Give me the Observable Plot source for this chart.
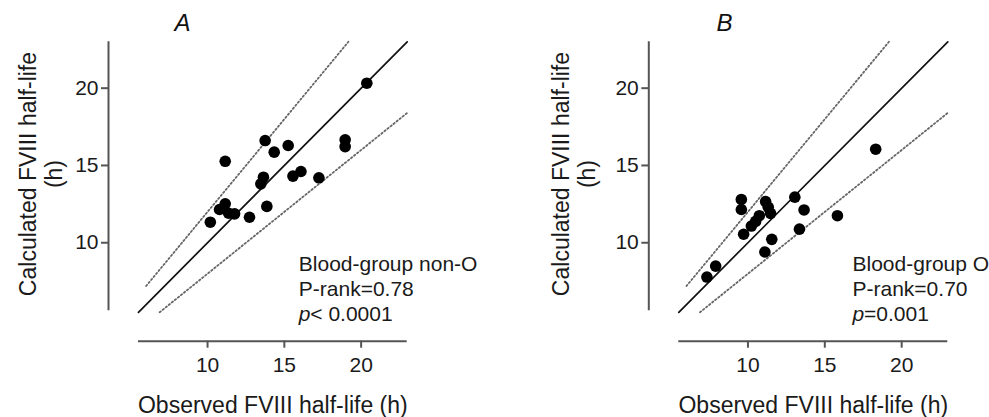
<!DOCTYPE html>
<html>
<head>
<meta charset="utf-8">
<script src="https://cdn.jsdelivr.net/npm/d3@7"></script>
<script src="https://cdn.jsdelivr.net/npm/@observablehq/plot@0.6"></script>
<style>
  html, body { margin: 0; padding: 0; background: #fff; }
  #wrap { position: relative; width: 989px; height: 417px; overflow: hidden; background: #fff; }
  #wrap > div { position: absolute; top: 0; }
</style>
</head>
<body>
<div id="wrap"><div id="pa" style="left:0"></div><div id="pb" style="left:494px"></div></div>
<script>
// ---- data ----
const tickValues = [10, 15, 20];
const xTitle = "Observed FVIII half-life (h)";
const yTitle = "Calculated FVIII half-life\n(h)";

// Panel A: blood-group non-O
const obsA  = [10.18, 10.78, 11.15, 11.37, 11.76, 11.15, 12.73, 13.86, 13.47, 13.64, 13.75, 14.34, 15.25, 15.56, 16.08, 17.25, 18.96, 18.96, 20.37];
const calcA = [11.33, 12.15, 12.52, 11.91, 11.87, 15.27, 11.65, 12.35, 13.81, 14.24, 16.61, 15.86, 16.29, 14.31, 14.61, 14.20, 16.66, 16.22, 20.32];
const annA = ["Blood-group non-O", "P-rank=0.78", "< 0.0001"];

// Panel B: blood-group O
const obsB  = [7.33, 7.90, 9.57, 9.57, 9.72, 10.22, 10.50, 10.74, 11.15, 11.32, 11.47, 11.55, 11.10, 13.05, 13.65, 13.35, 15.82, 18.31];
const calcB = [7.78, 8.49, 12.80, 12.15, 10.55, 11.08, 11.38, 11.75, 12.66, 12.30, 11.90, 10.22, 9.40, 12.95, 12.12, 10.88, 11.75, 16.05];
const annB = ["Blood-group O", "P-rank=0.70", "=0.001"];

// reference lines (identity and +/-20%)
const identityLine = [{x: 5.5, y: 5.5}, {x: 23, y: 23}];
const upperLine = [{x: 6.0, y: 7.2}, {x: 19.17, y: 23}];
const lowerLine = [{x: 6.88, y: 5.5}, {x: 23, y: 18.4}];

const axisSpan = [5.5, 23];
const xDomain = [3.55, 23];
const yDomain = [3.63, 23];

const FONT = "'Liberation Sans', Arial, Helvetica, sans-serif";

function panel({letter, obs, calc, ann, width, ml, mr, titleDx, letterDx, annDx}) {
  const mid = (axisSpan[0] + axisSpan[1]) / 2;
  const pts = obs.map((o, i) => ({o, c: calc[i]}));
  return Plot.plot({
    width, height: 417,
    marginLeft: ml, marginRight: mr, marginTop: 41.3, marginBottom: 76.3,
    x: {domain: xDomain},
    y: {domain: yDomain},
    style: {fontFamily: FONT, background: "#fff", color: "#1a1a1a", overflow: "visible"},
    marks: [
      // axis lines (offset style)
      Plot.ruleX([xDomain[0]], {y1: axisSpan[0] + 0.1, y2: axisSpan[1], stroke: "#555", strokeWidth: 2}),
      Plot.ruleY([yDomain[0]], {x1: axisSpan[0], x2: axisSpan[1], stroke: "#555", strokeWidth: 2}),
      Plot.axisY({ticks: tickValues, tickSize: 7, tickPadding: 3, fontSize: 21, stroke: "#555", strokeWidth: 2, label: null, tickFormat: d => d}),
      Plot.axisX({ticks: tickValues, tickSize: 7, tickPadding: 9, fontSize: 21, stroke: "#555", strokeWidth: 2, label: null, tickFormat: d => d}),
      // reference lines
      Plot.line(upperLine, {x: "x", y: "y", stroke: "#666", strokeWidth: 1.8, strokeDasharray: "1.5,2.4"}),
      Plot.line(lowerLine, {x: "x", y: "y", stroke: "#666", strokeWidth: 1.8, strokeDasharray: "1.5,2.4"}),
      Plot.line(identityLine, {x: "x", y: "y", stroke: "#111", strokeWidth: 1.7}),
      // points
      Plot.dot(pts, {x: "o", y: "c", r: 5.8, fill: "#000", stroke: null}),
      // titles
      Plot.text([xTitle], {x: mid, frameAnchor: "bottom", dy: 71.3, lineAnchor: "bottom", textAnchor: "middle", fontSize: 23, fill: "#1a1a1a"}),
      Plot.text([yTitle], {y: mid, frameAnchor: "left", dx: titleDx, dy: -3, rotate: -90, lineAnchor: "middle", textAnchor: "middle", lineHeight: 1.1, fontSize: 23, fill: "#1a1a1a"}),
      Plot.text([letter], {frameAnchor: "top-left", dx: letterDx, dy: -11.3, lineAnchor: "bottom", textAnchor: "middle", fontSize: 24, fontStyle: "italic", fill: "#111"}),
      // annotation
      Plot.text([ann[0]], {frameAnchor: "top-left", dx: annDx, dy: 229.4, lineAnchor: "bottom", textAnchor: "start", fontSize: 21, fill: "#1a1a1a"}),
      Plot.text([ann[1]], {frameAnchor: "top-left", dx: annDx, dy: 253.7, lineAnchor: "bottom", textAnchor: "start", fontSize: 21, fill: "#1a1a1a"}),
      Plot.text(["p"], {frameAnchor: "top-left", dx: annDx, dy: 278.7, lineAnchor: "bottom", textAnchor: "start", fontSize: 21, fontStyle: "italic", fill: "#1a1a1a"}),
      Plot.text([ann[2]], {frameAnchor: "top-left", dx: annDx + 11.5, dy: 278.7, lineAnchor: "bottom", textAnchor: "start", fontSize: 21, fill: "#1a1a1a"})
    ]
  });
}

document.getElementById("pa").appendChild(panel({
  letter: "A", obs: obsA, calc: calcA, ann: annA,
  width: 494, ml: 108, mr: 87.3, titleDx: -67.5, letterDx: 74, annDx: 190.3
}));
document.getElementById("pb").appendChild(panel({
  letter: "B", obs: obsB, calc: calcB, ann: annB,
  width: 495, ml: 154.3, mr: 41.7, titleDx: -74.8, letterDx: 75.7, annDx: 203.7
}));
</script>
</body>
</html>
